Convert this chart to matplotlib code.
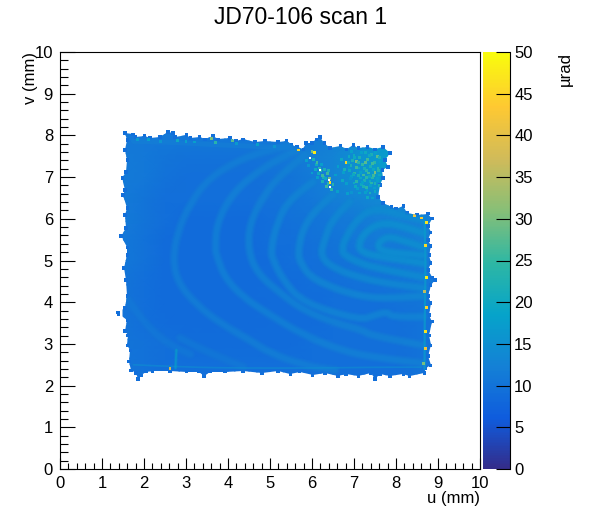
import numpy as np
import matplotlib
matplotlib.use("Agg")
import matplotlib.pyplot as plt
from matplotlib.colors import LinearSegmentedColormap, Normalize
from matplotlib.cm import ScalarMappable
from matplotlib.patches import Polygon, PathPatch
from matplotlib.path import Path
from matplotlib.ticker import MultipleLocator

plt.rcParams['font.family'] = ['Liberation Sans', 'DejaVu Sans']

# ---- colour scale (ROOT kBird) ----
bird = [(0.2082,0.1664,0.5293),(0.0592,0.3599,0.8684),(0.0780,0.5041,0.8385),
        (0.0232,0.6419,0.7914),(0.1802,0.7178,0.6425),(0.5301,0.7492,0.4662),
        (0.8186,0.7328,0.3499),(0.9956,0.7862,0.1968),(0.9764,0.9832,0.0539)]

# ---- coarse level of the map, microrad ----
grid_u = [1.5,2,2.5,3,3.5,4,4.5,5,5.5,6,6.5,7,7.5,8,8.5,9]
grid_v = [2,2.5,3,3.5,4,4.5,5,5.5,6,6.5,7,7.5,8,8.5]
grid_z = [
 [10.5,10,9.5,9.5,9.5,9.5,9.5,9.5,9.5,9.5,9.5,9.5,9.5,9.5,10,10],
 [10.5,10,9.5,9.5,9.5,9.5,9.5,9.5,9.5,9.5,9.5,9.5,9.5,9.5,10,10],
 [10.5,10,9.5,9.2,9.2,9.2,9.2,9.2,9.2,9.5,9.5,9.5,9.5,9.5,10,10],
 [10.5,9.5,9.2,9,9,9,9,9.2,9.2,9.2,9.5,9.5,9.5,9.5,10,10],
 [10.5,9.5,9,9,9,9,9,9.2,9.2,9.2,9.5,9.5,9.5,10,10.5,10.5],
 [10.5,9.5,9,9,9,9,9,9.2,9.2,9.5,9.5,10,10,10.5,11,11],
 [11,10,9,9,9,9,9,9.2,9.5,9.5,10,10.5,11,11,11.5,11.5],
 [11,10,9,9,9,9,9,9.5,9.5,10,10.5,11,11.5,11.5,12,12],
 [11.5,10.5,9.5,9,9,9,9,9.5,10,10.5,11,11.5,12,12.5,12.5,12.5],
 [11.5,10.5,9.5,9.5,9.5,9.5,9.5,10,10.5,11,12,13,14,14,13,13],
 [11.5,11,10,9.5,9.5,9.5,9.5,10,10.5,11.5,13,15,17,18,14,13],
 [11.5,11,10.5,10,10,10,10,10.5,11,12,13,15,17,18,15,14],
 [11,11,11,11,11,11,11,11,11,11.5,12,13,15,16,15,14],
 [11,11,11,11,11,11,11,11,11,11.5,12,13,15,16,15,14],
]

# ---- outline of the scanned area, mm ----
edge_u = [1.55,1.74,1.79,2.02,2.14,2.38,2.57,2.69,2.74,3.02,3.10,3.33,3.45,3.64,3.76,4.05,4.19,4.36,4.64,4.88,
          5.19,5.40,5.52,5.64,5.79,5.86,6.00,6.10,6.19,6.29,6.43,6.67,6.83,6.98,7.10,7.33,7.50,7.69,7.86,7.74,
          7.81,7.67,7.69,7.62,7.57,7.69,7.90,8.00,8.17,8.26,8.50,8.76,8.86,8.76,8.83,8.76,8.83,8.79,8.83,8.76,
          8.86,8.93,8.83,8.76,8.83,8.79,8.86,8.79,8.83,8.76,8.83,8.71,8.67,8.33,8.17,7.86,7.62,7.50,7.40,7.10,
          6.81,6.62,6.31,6.02,5.71,5.48,5.19,4.81,4.36,3.93,3.57,3.43,3.31,3.02,2.62,2.21,2.05,1.93,1.86,1.81,
          1.69,1.64,1.67,1.60,1.62,1.55,1.60,1.40,1.38,1.55,1.60,1.57,1.52,1.60,1.60,1.45,1.57,1.55,1.60,1.50,
          1.55,1.48,1.57,1.60,1.55,1.60]
edge_v = [8.06,8.03,7.96,7.99,7.94,7.96,8.08,8.06,7.96,8.01,7.94,7.96,7.91,7.99,7.91,7.94,7.87,7.91,7.84,7.87,
          7.84,7.87,7.77,7.72,7.67,7.82,7.82,7.91,7.96,7.82,7.70,7.75,7.67,7.77,7.70,7.72,7.67,7.72,7.58,7.41,
          7.24,7.17,6.98,6.81,6.52,6.38,6.28,6.24,6.31,6.14,6.09,6.12,6.00,5.83,5.68,5.49,5.35,5.13,4.94,4.77,
          4.60,4.53,4.41,4.15,3.98,3.69,3.53,3.21,2.97,2.71,2.49,2.42,2.30,2.23,2.28,2.23,2.28,2.16,2.30,2.23,
          2.28,2.23,2.30,2.25,2.33,2.28,2.35,2.30,2.35,2.33,2.33,2.23,2.33,2.33,2.35,2.35,2.33,2.25,2.16,2.30,
          2.37,2.57,2.85,2.97,3.21,3.31,3.57,3.72,3.76,3.86,4.15,4.53,4.82,5.13,5.32,5.59,5.78,6.09,6.26,6.57,
          6.69,6.98,7.12,7.41,7.65,7.89]
edge_level = 9.5

# ---- fringes: position in mm, height in microrad ----
arc1_u = [5.48,5.17,4.36,3.57,3.10,2.79,2.69,2.81,3.26,3.81,4.52,5.00,5.79,6.55]
arc1_v = [7.77,7.70,7.46,7.00,6.38,5.66,5.01,4.46,3.93,3.50,3.09,2.78,2.49,2.37]
arc2_u = [5.64,5.24,4.52,4.05,3.74,3.69,3.74,3.93,4.36,4.93,5.79,6.79,7.62,8.64]
arc2_v = [7.65,7.46,7.00,6.52,5.90,5.30,5.08,4.58,4.12,3.74,3.21,2.81,2.66,2.54]
arc3_u = [5.83,5.24,4.83,4.52,4.48,4.69,5.24,5.79,6.55,7.21,7.38,8.64]
arc3_v = [7.53,7.05,6.52,5.90,5.25,4.70,4.22,3.81,3.50,3.33,3.21,2.97]
arc4_u = [6.02,5.48,5.17,5.02,5.07,5.31,5.79,7.14,7.50,7.79,7.90,8.64]
arc4_v = [6.88,6.50,5.92,5.25,5.01,4.53,3.98,3.57,3.69,3.77,3.65,3.65]
arc5_u = [6.50,6.12,5.79,5.67,5.71,6.02,7.14,7.98,8.64]
arc5_v = [6.57,6.26,5.78,5.25,4.96,4.53,4.12,4.10,4.15]
arc6_u = [6.90,6.50,6.31,6.19,6.60,7.14,7.62,8.64]
arc6_v = [6.40,6.02,5.54,5.08,4.77,4.60,4.48,4.34]
arc7_u = [8.64,8.02,7.50,7.10,6.79,6.71,6.79,7.14,7.45,8.64]
arc7_v = [5.97,6.12,6.26,6.02,5.54,5.25,5.11,4.94,4.84,4.60]
arc8_u = [8.64,8.10,7.62,7.26,7.10,7.19,7.50,8.64]
arc8_v = [5.66,5.85,5.90,5.68,5.37,5.20,5.11,4.94]
arc9_u = [8.64,8.02,7.74,7.55,7.69,8.64]
arc9_v = [5.32,5.54,5.56,5.37,5.20,5.13]
faint1_u = [1.62,2.07,2.62,3.10]
faint1_v = [4.05,3.41,2.97,2.75]
faint2_u = [2.86,3.40,4.36]
faint2_v = [3.14,2.85,2.45]
arcs = [(arc1_u,arc1_v,12.6),(arc2_u,arc2_v,13),(arc3_u,arc3_v,13.2),(arc4_u,arc4_v,13.6),
        (arc5_u,arc5_v,14),(arc6_u,arc6_v,14.5),(arc7_u,arc7_v,15),(arc8_u,arc8_v,15.5),(arc9_u,arc9_v,15.5),
        (faint1_u,faint1_v,11.5),(faint2_u,faint2_v,11.5)]

# ---- brighter strips along the border, mm and microrad ----
strip_top_u = [1.75,2.6,3.6,4.6,5.5]
strip_top_v = [7.86,7.84,7.78,7.74,7.70]
strip_right_u = [8.68,8.68,8.70,8.70,8.68]
strip_right_v = [2.40,3.5,4.5,5.2,5.95]
strip_bot_u = [1.75,3.0,4.4,6.0,7.5,8.6]
strip_bot_v = [2.50,2.44,2.42,2.42,2.44,2.44]
strip_spike_u = [2.75,2.77]
strip_spike_v = [2.42,2.85]

# ---- single noisy cells ----
hot_u = [6.05,6.81,5.67,6.43,6.00,7.55,7.48,7.42,7.33,7.27,7.21,7.14,7.05,7.00,6.93,7.57,7.50,7.40,7.30,7.22,
         7.12,7.02,6.90,7.62,7.45,7.36,7.25,7.15,7.05,6.95,7.50,7.40,7.30,7.18,7.08,7.50,7.38,7.27,7.45,7.33,
         7.60,7.55,6.20,6.28,6.36,6.42,6.50,6.10,6.18,6.26,6.34,6.46,6.03,6.12,6.55,6.62,6.70,6.78,6.88,
         8.72,8.70,8.72,8.68,8.72,8.70,8.71,8.66,4.10,3.60,8.60,8.45,2.62,1.62,1.68,
         6.60,6.72,6.85,6.97,
         7.60,7.52,7.44,7.36,7.28,7.18,7.10,7.02,6.94,6.86,7.58,7.46,7.34,7.24,7.16,7.06,6.98,6.88,6.76,
         7.55,7.47,7.38,7.29,7.20,7.11,7.00,6.92,6.83,7.60,7.48,7.41,7.31,7.23,7.13,7.04,6.95,
         6.15,6.22,6.30,6.38,6.24,6.32,6.40,6.14,6.08,6.00,5.92,5.86,
         2.1,2.4,2.8,3.2,3.7,4.2,4.7,5.1,1.85,3.0]
hot_v = [7.58,7.34,7.65,6.88,7.62,7.50,7.36,7.55,7.42,7.60,7.30,7.48,7.38,7.52,7.28,7.22,7.12,7.26,7.16,7.05,
         7.22,7.10,7.15,7.38,6.98,7.02,6.92,6.98,6.90,7.02,6.85,6.80,6.76,6.82,6.72,6.66,6.62,6.64,6.50,6.52,
         7.05,6.92,7.15,7.00,7.08,6.96,6.82,7.30,7.22,6.90,6.78,6.70,7.42,7.35,7.05,7.25,7.42,7.18,7.50,
         5.92,5.35,4.60,4.25,3.88,3.30,2.88,2.52,7.88,7.92,6.02,6.08,2.40,2.65,2.20,
         6.65,6.92,6.60,7.40,
         7.46,7.60,7.32,7.52,7.36,7.58,7.34,7.46,7.62,7.34,7.16,7.18,7.10,7.20,7.12,7.24,7.06,7.24,7.12,
         6.98,7.04,6.90,7.00,6.88,7.04,6.86,6.96,6.84,6.80,6.74,6.86,6.68,6.78,6.62,6.78,6.64,
         7.08,7.30,7.18,6.84,7.04,6.96,7.16,7.00,7.18,7.10,7.28,7.40,
         7.90,7.86,7.88,7.84,7.82,7.80,7.78,7.74,7.90,7.86]
hot_z = [48,45,45,46,30,28,24,22,26,20,25,22,30,20,22,24,30,22,24,26,
         20,24,20,18,24,20,22,20,24,18,22,18,24,20,18,20,22,18,18,20,
         20,18,24,22,26,30,24,20,24,22,26,24,22,26,18,18,20,22,20,
         47,46,48,36,45,47,42,30,28,30,44,42,38,48,44,
         18,20,18,22,
         22,18,26,20,28,18,24,20,18,20,24,20,26,22,18,26,20,16,18,
         18,26,20,24,18,22,20,16,18,22,18,24,18,22,18,20,16,
         20,18,22,24,26,20,22,18,20,18,16,18,
         18,16,20,18,24,17,18,16,17,18]
hole_u = [5.95,6.19,6.43,6.40]
hole_v = [7.46,7.17,6.76,6.93]

# ---- axis ----
x_limits = (0, 10)
y_limits = (0, 10)
z_limits = (0, 50)
x_ticks = list(range(0, 11))
y_ticks = list(range(0, 11))
z_ticks = list(range(0, 51, 5))

W, H = 601, 522
fig = plt.figure(figsize=(W/100, H/100), dpi=100, facecolor='white')
ax = fig.add_axes([60/W, 1-469/H, 420/W, 417/H])
cax = fig.add_axes([483/W, 1-469/H, 27/W, 417/H])

cmap = LinearSegmentedColormap.from_list('bird', bird, N=255)
norm = Normalize(*z_limits)

clip = Polygon(np.column_stack([edge_u, edge_v]), closed=True, transform=ax.transData,
               facecolor='none', edgecolor='none')
ax.add_patch(clip)

mesh = ax.pcolormesh(grid_u, grid_v, grid_z, cmap=cmap, norm=norm, shading='gouraud', zorder=1)
mesh.set_clip_path(clip)

def smooth_path(us, vs):
    pts = np.column_stack([us, vs])
    verts = [pts[0]]
    codes = [Path.MOVETO]
    for i in range(1, len(pts) - 1):
        verts += [pts[i], (pts[i] + pts[i + 1]) / 2]
        codes += [Path.CURVE3, Path.CURVE3]
    verts.append(pts[-1])
    codes.append(Path.LINETO)
    return Path(verts, codes)

def band(us, vs, z, widths=((7.5,.16),(6,.24),(4.4,.32),(2.8,.4)), zo=2):
    for lw, al in widths:
        p = PathPatch(smooth_path(us, vs), facecolor='none', edgecolor=cmap(norm(z)), lw=lw,
                      alpha=al, zorder=zo, capstyle='round', joinstyle='round')
        ax.add_patch(p)
        p.set_clip_path(clip)

for us, vs, z in arcs:
    band(us, vs, z)
band(strip_top_u, strip_top_v, 12.5, ((3.5,.6),))
band(strip_right_u, strip_right_v, 17, ((1.6,.8),))
band(strip_bot_u, strip_bot_v, 15, ((1.2,.6),))
band(strip_spike_u, strip_spike_v, 19, ((2.4,.3),(1.2,.5),))

ax.scatter(edge_u, edge_v, c=[edge_level]*len(edge_u), cmap=cmap, norm=norm, marker='s', s=5.5,
           linewidths=0, zorder=1.5)
sc = ax.scatter(hot_u, hot_v, c=hot_z, cmap=cmap, norm=norm, marker='s', s=4.2, linewidths=0, zorder=3)
sc.set_clip_path(clip)
ax.scatter(hole_u, hole_v, c='white', marker='s', s=4, linewidths=0, zorder=4)

ax.set_xlim(*x_limits)
ax.set_ylim(*y_limits)
ax.set_xticks(x_ticks)
ax.set_yticks(y_ticks)
ax.xaxis.set_minor_locator(MultipleLocator(0.2))
ax.yaxis.set_minor_locator(MultipleLocator(0.2))
ax.tick_params(axis='x', which='major', direction='in', length=8, width=.8, labelsize=12, pad=5)
ax.tick_params(axis='x', which='minor', direction='in', length=4.2, width=.8)
ax.tick_params(axis='y', which='major', direction='in', length=10.5, width=.8, labelsize=12, pad=5)
ax.tick_params(axis='y', which='minor', direction='in', length=5.5, width=.8)
for s in ax.spines.values():
    s.set_linewidth(.8)

fig.text(480/W, 1-499/H, 'u (mm)', ha='right', va='center', fontsize=12)
fig.text(30/W, 1-52/H, 'v (mm)', ha='center', va='top', rotation=90, fontsize=12)
fig.text(301/W, 1-18/H, 'JD70-106 scan 1', ha='center', va='center', fontsize=16.5)

cb = fig.colorbar(ScalarMappable(norm=norm, cmap=cmap), cax=cax, ticks=z_ticks)
cb.outline.set_visible(False)
cb.solids.set_edgecolor('face')
cb.solids.set_zorder(0)
cax.set_axisbelow(False)
cax.minorticks_off()
cax.tick_params(axis='y', which='major', direction='in', length=10, width=.8, labelsize=12, pad=3,
                right=True, left=False, zorder=5)
fig.add_artist(plt.Line2D([510/W, 510/W], [1-469/H, 1-52/H], color='black', lw=.8))
fig.text(565/W, 1-52/H, 'µrad', ha='center', va='top', rotation=90, fontsize=12)

fig.savefig('out.png', dpi=100)
